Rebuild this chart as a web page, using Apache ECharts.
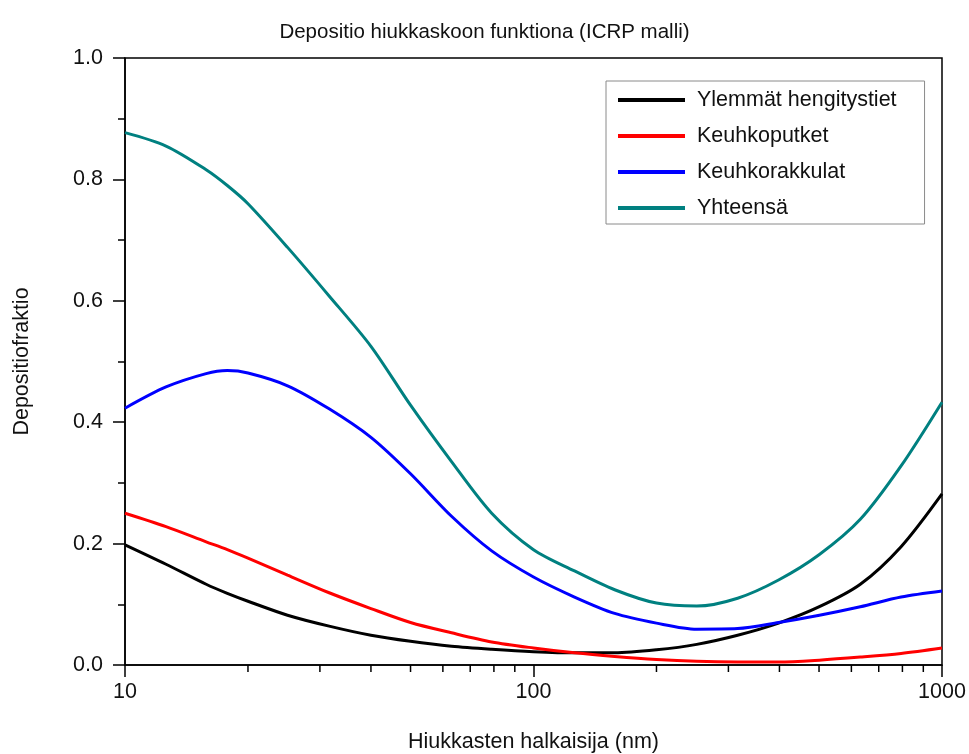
<!DOCTYPE html>
<html>
<head>
<meta charset="utf-8">
<script src="https://cdn.jsdelivr.net/npm/echarts@6/dist/echarts.min.js"></script>
<style>
  html, body { margin: 0; padding: 0; background: #fff; }
  #chart { width: 969px; height: 754px; }
</style>
</head>
<body>
<div id="chart"></div>
<script>
// Particle diameter (nm), ten samples per decade plus the alveolar peak
const diameters = [10, 12.6, 15.8, 17.8, 20, 25, 31.6, 40, 50, 63, 79, 100, 126, 158, 200, 251, 316, 398, 501, 631, 794, 1000];

// Deposition fractions per region
const upperAirways = [0.198, 0.166, 0.133, 0.118, 0.105, 0.082, 0.064, 0.049, 0.039, 0.031, 0.026, 0.022, 0.020, 0.020, 0.025, 0.034, 0.049, 0.069, 0.096, 0.133, 0.195, 0.282];
const bronchi      = [0.250, 0.228, 0.203, 0.190, 0.176, 0.148, 0.119, 0.093, 0.070, 0.053, 0.038, 0.028, 0.020, 0.014, 0.009, 0.006, 0.005, 0.005, 0.008, 0.013, 0.019, 0.028];
const alveoli      = [0.423, 0.458, 0.480, 0.485, 0.481, 0.460, 0.422, 0.375, 0.315, 0.245, 0.188, 0.145, 0.112, 0.085, 0.069, 0.059, 0.060, 0.070, 0.082, 0.096, 0.112, 0.122];
const total        = [0.877, 0.855, 0.816, 0.790, 0.760, 0.688, 0.608, 0.525, 0.428, 0.335, 0.250, 0.190, 0.155, 0.124, 0.102, 0.097, 0.110, 0.140, 0.182, 0.240, 0.328, 0.433];

const seriesNames = ['Ylemmät hengitystiet', 'Keuhkoputket', 'Keuhkorakkulat', 'Yhteensä'];
const seriesColors = ['#000000', '#ff0000', '#0000ff', '#008080'];

// Axis ticks
const xMajorTicks = [10, 100, 1000];
const xMinorTicks = [20, 30, 40, 50, 60, 70, 80, 90, 200, 300, 400, 500, 600, 700, 800, 900];
const yTicks = [0, 0.2, 0.4, 0.6, 0.8, 1.0];

const FONT = '"Liberation Sans", Arial, sans-serif';
const pair = (vals) => diameters.map((d, i) => [d, vals[i]]);

const chart = echarts.init(document.getElementById('chart'), null, { renderer: 'canvas' });

const lineSeries = [upperAirways, bronchi, alveoli, total].map((vals, i) => ({
  name: seriesNames[i],
  type: 'line',
  data: pair(vals),
  smooth: 0.3,
  symbol: 'none',
  lineStyle: { color: seriesColors[i], width: 3 },
  itemStyle: { color: seriesColors[i] },
  z: 3
}));

chart.setOption({
  animation: false,
  backgroundColor: '#ffffff',
  title: {
    text: 'Depositio hiukkaskoon funktiona (ICRP malli)',
    left: 'center',
    top: 22,
    padding: 0,
    textStyle: { fontFamily: FONT, fontSize: 20.5, fontWeight: 'normal', color: '#111' }
  },
  grid: {
    left: 125, right: 27, top: 58, bottom: 89,
    containLabel: false,
    outerBoundsMode: 'none',
    show: true,
    borderColor: '#000',
    borderWidth: 1.5,
    backgroundColor: 'transparent'
  },
  legend: {
    data: seriesNames,
    orient: 'vertical',
    left: 606,
    top: 81,
    padding: [7, 28, 4, 12],
    itemWidth: 67,
    itemHeight: 4,
    itemGap: 12,
    icon: 'rect',
    borderColor: '#8a8a8a',
    borderWidth: 1,
    backgroundColor: '#fff',
    selectedMode: false,
    textStyle: {
      fontFamily: FONT, fontSize: 21.5, color: '#111',
      lineHeight: 24,
      padding: [0, 0, 0, 7]
    }
  },
  xAxis: {
    type: 'log',
    logBase: 10,
    min: 10,
    max: 1000,
    name: 'Hiukkasten halkaisija (nm)',
    nameLocation: 'middle',
    nameGap: 66,
    nameTextStyle: { fontFamily: FONT, fontSize: 21.5, color: '#111' },
    axisLine: { show: true, lineStyle: { color: '#000', width: 1.5 } },
    axisTick: { show: true, inside: false, length: 12, lineStyle: { color: '#000', width: 1.5 } },
    minorTick: { show: false },
    splitLine: { show: false },
    axisLabel: {
      margin: 16,
      fontFamily: FONT, fontSize: 21.5, color: '#111',
      formatter: (v) => (xMajorTicks.indexOf(Math.round(v)) >= 0 ? String(Math.round(v)) : '')
    }
  },
  yAxis: {
    type: 'value',
    min: 0,
    max: 1,
    interval: 0.2,
    name: 'Depositiofraktio',
    nameLocation: 'middle',
    nameGap: 92,
    nameTextStyle: { fontFamily: FONT, fontSize: 21.5, color: '#111' },
    axisLine: { show: true, lineStyle: { color: '#000', width: 1.5 } },
    axisTick: { show: true, inside: false, length: 12, lineStyle: { color: '#000', width: 1.5 } },
    minorTick: { show: true, splitNumber: 2, length: 7, lineStyle: { color: '#000', width: 1.5 } },
    splitLine: { show: false },
    axisLabel: {
      margin: 22,
      fontFamily: FONT, fontSize: 21.5, color: '#111',
      formatter: (v) => {
        const t = yTicks.find((y) => Math.abs(y - v) < 1e-9);
        return t === undefined ? '' : t.toFixed(1);
      }
    }
  },
  series: [
    ...lineSeries,
    {
      // minor ticks of the logarithmic axis at 2..9 of each decade
      name: 'xMinorTicks',
      type: 'custom',
      silent: true,
      clip: false,
      z: 4,
      data: xMinorTicks.map((v) => [v, 0]),
      renderItem: (params, api) => {
        const p = api.coord([api.value(0), 0]);
        return {
          type: 'line',
          shape: { x1: p[0], y1: p[1], x2: p[0], y2: p[1] + 7 },
          style: { stroke: '#000', lineWidth: 1.5 }
        };
      }
    }
  ]
});
</script>
</body>
</html>
